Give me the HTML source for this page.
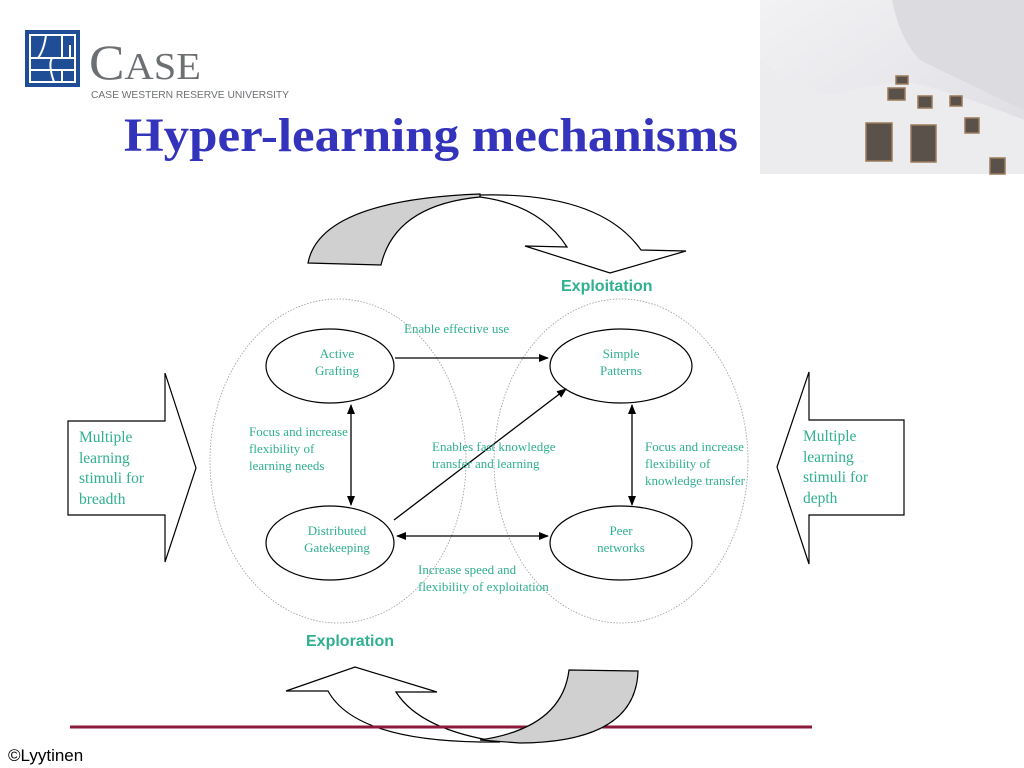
<!DOCTYPE html>
<html><head><meta charset="utf-8"><style>
html,body{margin:0;padding:0;background:#fff;}
svg{display:block;}
.t{font-family:"Liberation Serif",serif;fill:#2fb08f;font-size:13px;}
.b{font-family:"Liberation Serif",serif;fill:#2fb08f;font-size:15.5px;}
</style></head><body>
<svg width="1024" height="768" viewBox="0 0 1024 768" xmlns="http://www.w3.org/2000/svg">
<defs>
<marker id="ah" markerWidth="10" markerHeight="10" refX="9" refY="5" orient="auto-start-reverse" markerUnits="userSpaceOnUse">
<path d="M0,1 L10,5 L0,9 Z" fill="#000"/></marker>
<linearGradient id="bg1" x1="0" y1="0" x2="1" y2="1">
<stop offset="0" stop-color="#f2f2f4"/><stop offset="0.5" stop-color="#e8e8ec"/><stop offset="1" stop-color="#dcdce0"/></linearGradient>
</defs>

<!-- Logo -->
<rect x="25" y="30" width="55" height="57" fill="#1f4e96"/>
<rect x="30" y="35" width="45" height="47" fill="none" stroke="#fff" stroke-width="2"/>
<path d="M30,58 L75,58 M30,70 L75,70 M46,35 Q44,50 38,58 M52,58 Q48,65 54,82 M62,35 L62,58 M62,70 L62,82 M70,45 L70,58" stroke="#fff" stroke-width="2" fill="none"/>
<text x="89" y="79" font-family="Liberation Serif,serif" font-size="50" fill="#6d7073" textLength="112" lengthAdjust="spacingAndGlyphs">C<tspan font-size="38">ASE</tspan></text>
<text x="91" y="98" font-family="Liberation Sans,sans-serif" font-size="10" fill="#6d7073" textLength="198" lengthAdjust="spacingAndGlyphs">CASE WESTERN RESERVE UNIVERSITY</text>

<!-- Title -->
<text x="124" y="151" font-family="Liberation Serif,serif" font-weight="bold" font-size="48" fill="#3333bb" textLength="614" lengthAdjust="spacingAndGlyphs">Hyper-learning mechanisms</text>

<!-- Photo -->
<rect x="760" y="0" width="264" height="174" fill="url(#bg1)"/>
<path d="M760,60 Q800,90 830,95 L900,80 Q950,90 1024,120 L1024,174 L760,174 Z" fill="#ececef"/>
<path d="M892,0 L1024,0 L1024,110 Q960,80 920,60 Q900,40 892,0 Z" fill="#dcdce0"/>
<g fill="#5a514a" stroke="#9a7a5a" stroke-width="1.5">
<rect x="866" y="123" width="26" height="38"/><rect x="911" y="125" width="25" height="37"/>
<rect x="888" y="88" width="17" height="12"/><rect x="918" y="96" width="14" height="12"/>
<rect x="965" y="118" width="14" height="15"/><rect x="950" y="96" width="12" height="10"/>
<rect x="896" y="76" width="12" height="8"/><rect x="990" y="158" width="15" height="16"/>
</g>

<!-- Top curved arrow -->
<path d="M480,195 Q600,192 641,250 L686,251 L610,273 L525,246 L567,247 Q540,205 480,197 Z" fill="#fff" stroke="#000" stroke-width="1.2"/>
<path d="M308,263 Q320,200 480,194 L480,197 Q395,205 381,265 Z" fill="#d0d0d0" stroke="#000" stroke-width="1.2"/>

<!-- Bottom curved arrow -->
<path d="M328,691 Q355,740 480,742 L500,742 Q420,730 396,692 L437,692 L355,667 L286,691 Z" fill="#fff" stroke="#000" stroke-width="1.2"/>
<line x1="70" y1="727" x2="812" y2="727" stroke="#8c1a3a" stroke-width="3"/>
<path d="M569,670 L638,671 Q636,742 520,743 L480,740 Q562,728 569,670 Z" fill="#d0d0d0" stroke="#000" stroke-width="1.2"/>

<!-- dotted big ellipses -->
<ellipse cx="338" cy="461" rx="128" ry="162" fill="none" stroke="#999" stroke-width="0.8" stroke-dasharray="1.5,1.5"/>
<ellipse cx="621" cy="461" rx="127" ry="162" fill="none" stroke="#999" stroke-width="0.8" stroke-dasharray="1.5,1.5"/>

<text x="561" y="291" font-family="Liberation Sans,sans-serif" font-weight="bold" font-size="16" fill="#2fb08f">Exploitation</text>
<text x="306" y="646" font-family="Liberation Sans,sans-serif" font-weight="bold" font-size="16" fill="#2fb08f">Exploration</text>

<!-- Nodes -->
<g fill="none" stroke="#000" stroke-width="1.2">
<ellipse cx="330" cy="366" rx="64" ry="37"/>
<ellipse cx="621" cy="366" rx="71" ry="37"/>
<ellipse cx="330" cy="543" rx="64" ry="37"/>
<ellipse cx="621" cy="543" rx="71" ry="37"/>
</g>
<g class="t" text-anchor="middle">
<text x="337" y="358">Active</text><text x="337" y="375">Grafting</text>
<text x="621" y="358">Simple</text><text x="621" y="375">Patterns</text>
<text x="337" y="535">Distributed</text><text x="337" y="552">Gatekeeping</text>
<text x="621" y="535">Peer</text><text x="621" y="552">networks</text>
</g>

<!-- connectors -->
<g stroke="#000" stroke-width="1.3" fill="none">
<line x1="395" y1="358" x2="548" y2="358" marker-end="url(#ah)"/>
<line x1="351" y1="405" x2="351" y2="505" marker-start="url(#ah)" marker-end="url(#ah)"/>
<line x1="632" y1="405" x2="632" y2="505" marker-start="url(#ah)" marker-end="url(#ah)"/>
<line x1="397" y1="536" x2="548" y2="536" marker-start="url(#ah)" marker-end="url(#ah)"/>
<line x1="394" y1="520" x2="566" y2="389" marker-end="url(#ah)"/>
</g>

<g class="t">
<text x="404" y="333">Enable effective use</text>
<text x="249" y="436">Focus and increase</text><text x="249" y="453">flexibility of</text><text x="249" y="470">learning needs</text>
<text x="432" y="451">Enables fast knowledge</text><text x="432" y="468">transfer and learning</text>
<text x="645" y="451">Focus and increase</text><text x="645" y="468">flexibility of</text><text x="645" y="485">knowledge transfer</text>
<text x="418" y="574">Increase speed and</text><text x="418" y="591">flexibility of exploitation</text>
</g>

<!-- side arrows -->
<path d="M68,421 L165,421 L165,373 L196,468 L165,562 L165,515 L68,515 Z" fill="#fff" stroke="#000" stroke-width="1.2"/>
<path d="M904,420 L809,420 L809,372 L777,467 L809,564 L809,515 L904,515 Z" fill="#fff" stroke="#000" stroke-width="1.2"/>
<g class="b">
<text x="79" y="442">Multiple</text><text x="79" y="463">learning</text><text x="79" y="483">stimuli for</text><text x="79" y="504">breadth</text>
<text x="803" y="441">Multiple</text><text x="803" y="462">learning</text><text x="803" y="482">stimuli for</text><text x="803" y="503">depth</text>
</g>

<text x="8" y="761" font-family="Liberation Sans,sans-serif" font-size="17" fill="#000">©Lyytinen</text>
</svg>
</body></html>
